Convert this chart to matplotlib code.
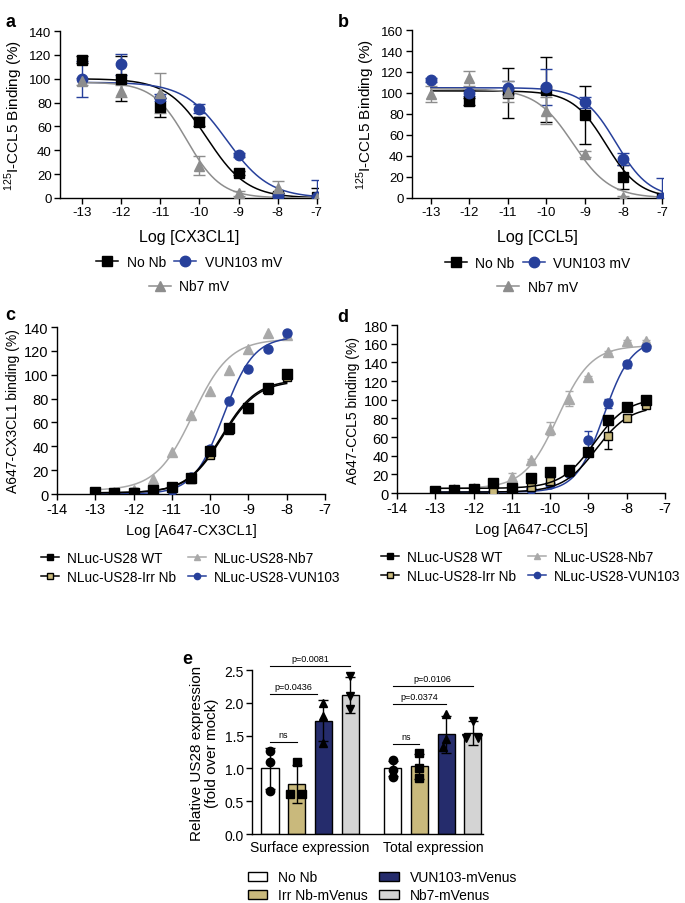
import numpy as np
import matplotlib
matplotlib.use("Agg")
import matplotlib.pyplot as plt
from matplotlib.patches import Patch
from matplotlib.lines import Line2D

plt.rcParams["font.family"] = ["Liberation Sans", "DejaVu Sans"]
plt.rcParams["mathtext.fontset"] = "custom"
plt.rcParams["mathtext.rm"] = "Liberation Sans"
plt.rcParams["axes.unicode_minus"] = False

# ---------- data: panel a (CX3CL1 competition) ----------
a_x = np.array([-13, -12, -11, -10, -9, -8, -7])
a_nonb = np.array([116, 100, 76, 64, 21, 2, 1])
a_nonb_err = np.array([3, 19, 8, 4, 2, 2, 7])
a_vun = np.array([100, 112, 84, 75, 36, 2, 1])
a_vun_err = np.array([15, 9, 3, 4, 2, 2, 14])
a_nb7 = np.array([98, 90, 88, 27, 4, 8, 0])
a_nb7_err = np.array([3, 5, 17, 8, 2, 6, 1])
# fit parameters: bottom, top, logIC50, hill
a_fit = {"nonb": (0, 100, -9.8, -0.85), "vun": (0, 97, -9.3, -0.8), "nb7": (0, 97, -10.32, -1.0)}

# ---------- data: panel b (CCL5 competition) ----------
b_x = np.array([-13, -12, -11, -10, -9, -8, -7])
b_nonb = np.array([np.nan, 92, 100, 103, 79, 20, 0])
b_nonb_err = np.array([0, 3, 24, 31, 28, 11, 0])
b_vun = np.array([112, 100, 105, 106, 91, 37, 0])
b_vun_err = np.array([2, 3, 6, 17, 5, 6, 19])
b_nb7 = np.array([99, 114, 101, 83, 42, 1, np.nan])
b_nb7_err = np.array([8, 7, 10, 13, 3, 1, 0])
b_fit = {"nonb": (0, 102, -8.45, -1.0), "vun": (0, 105, -8.19, -1.0), "nb7": (0, 104, -9.31, -0.9)}

# ---------- data: panel c (A647-CX3CL1 saturation) ----------
c_x = np.array([-13, -12.5, -12, -11.5, -11, -10.5, -10, -9.5, -9, -8.5, -8])
c_wt = np.array([2, 0.5, 1, 3, 6, 13.5, 36, 55, 72, 89, 101])
c_irr = np.array([1, 0.5, 1.4, 2, 5, 13, 33, 54, 71, 87, 98])
c_vun = np.array([0, 0, 0, 0, 3, 14, 38, 78, 105, 122, 135])
c_nb7 = np.array([2, 2, 3, 12.6, 35.6, 66.6, 86.5, 104, 122, 135, 133])
c_fit = {"wt": (1, 96, -9.7, 0.95), "irr": (1, 95, -9.68, 0.95),
         "vun": (0, 132, -9.65, 1.1), "nb7": (3, 130, -10.45, 0.9)}

# ---------- data: panel d (A647-CCL5 saturation) ----------
d_x = np.array([-13, -12.5, -12, -11.5, -11, -10.5, -10, -9.5, -9, -8.5, -8, -7.5])
d_wt = np.array([2, 3, 4, 11, 5.4, 16, 22.5, 24.6, 44, 78.6, 92, 100])
d_irr = np.array([0, 1, 2, 2, 3, 6.4, 13, 23, 43.6, 60.7, 80, 94])
d_irr_err = np.array([0, 0, 0, 0, 0, 0, 1, 1, 1, 14, 2, 2])
d_vun = np.array([0, 0, 1, 1, 2, 4, 9.6, 21, 56.8, 96, 138, 157])
d_vun_err = np.array([0, 0, 0, 0, 0, 0, 1, 1, 10, 5, 4, 2])
d_nb7 = np.array([2, 4, 5, 6, 17, 35, 69, 101, 124, 150.7, 162.5, 162.5])
d_nb7_err = np.array([0, 0, 0, 0, 4, 1, 7, 8, 1, 1, 1, 1])
d_fit = {"wt": (5, 102, -8.85, 1.0), "irr": (1, 93, -8.8, 1.0),
         "vun": (1, 165, -8.6, 1.2), "nb7": (5, 158, -9.8, 1.0)}

# ---------- data: panel e (bar chart) ----------
e_groups = ["Surface expression", "Total expression"]
e_conds = ["No Nb", "Irr Nb-mVenus", "VUN103-mVenus", "Nb7-mVenus"]
e_means = np.array([[1.00, 0.76, 1.73, 2.12],
                    [1.00, 1.03, 1.52, 1.54]])
e_sd = np.array([[0.31, 0.29, 0.31, 0.28],
                 [0.12, 0.19, 0.28, 0.18]])
e_points = [[[1.26, 1.10, 0.66], [1.10, 0.61, 0.61], [1.99, 1.80, 1.39], [2.41, 2.10, 1.90]],
            [[1.13, 0.97, 0.87], [1.23, 1.00, 0.86], [1.83, 1.45, 1.32], [1.73, 1.47, 1.47]]]
e_pvals = [("ns", 0, 0, 1, 1.40), ("p=0.0436", 0, 0, 1.75, 2.13), ("p=0.0081", 0, 0, 3, 2.56),
           ("ns", 1, 0, 1, 1.37), ("p=0.0374", 1, 0, 2, 1.98), ("p=0.0106", 1, 0, 3, 2.26)]

BLUE = "#27409b"
GRAY_AB = "#8d8d8d"
GRAY_CD = "#a9a9a9"
TAN = "#c9b97c"
NAVY = "#252c6c"
LGRAY = "#d4d4d4"


def logistic(x, p):
    bottom, top, ec50, hill = p
    return bottom + (top - bottom) / (1 + 10 ** ((ec50 - x) * hill))


def prism_axes(ax, fs):
    ax.spines["top"].set_visible(False)
    ax.spines["right"].set_visible(False)
    ax.tick_params(direction="out", length=4, width=1, labelsize=fs, pad=2)
    for s in ["left", "bottom"]:
        ax.spines[s].set_linewidth(1)


fig = plt.figure(figsize=(6.85, 9.04), dpi=100)

# ---------- panel a / b ----------
for pos, xs, sets, fits, ymax, yticks, xlabel, xl in [
        ([0.0876, 0.7799, 0.3766, 0.1847], a_x,
         [(a_nonb, a_nonb_err), (a_vun, a_vun_err), (a_nb7, a_nb7_err)], a_fit, 140,
         np.arange(0, 141, 20), "Log [CX3CL1]", (-13.56, -6.97)),
        ([0.6015, 0.7799, 0.3664, 0.1858], b_x,
         [(b_nonb, b_nonb_err), (b_vun, b_vun_err), (b_nb7, b_nb7_err)], b_fit, 160,
         np.arange(0, 161, 20), "Log [CCL5]", (-13.49, -6.97))]:
    ax = fig.add_axes(pos)
    prism_axes(ax, 9.5)
    xx = np.linspace(-13, -7, 300)
    styles = [("nonb", "black", "s", 7, "No Nb"), ("vun", BLUE, "o", 7.5, "VUN103 mV"),
              ("nb7", GRAY_AB, "^", 7.5, "Nb7 mV")]
    handles = []
    for (y, err), (key, col, mk, ms, lab) in zip(sets, styles):
        ax.errorbar(xs, y, yerr=err, fmt="none", ecolor=col, elinewidth=1, capsize=4, zorder=2)
        ax.plot(xx, logistic(xx, fits[key]), color=col, lw=1.1, zorder=3)
        ax.plot(xs, y, mk, color=col, ms=ms, zorder=4)
        handles.append(Line2D([0], [0], color=col, marker=mk, ms=ms, lw=1.1, label=lab))
    ax.set_xlim(*xl)
    ax.set_ylim(0, ymax)
    ax.set_xticks(np.arange(-13, -6, 1))
    ax.set_yticks(yticks)
    ax.set_xlabel(xlabel, fontsize=11.5, labelpad=8)
    ax.set_ylabel(r"$^{125}$I-CCL5 Binding (%)", fontsize=11, labelpad=3)
    leg1 = ax.legend(handles=handles[:2], ncol=2, loc="center", bbox_to_anchor=(0.5, -0.385),
                     frameon=False, fontsize=10, handlelength=1.6, columnspacing=0.6,
                     handletextpad=0.6)
    ax.add_artist(leg1)
    ax.legend(handles=handles[2:], loc="center", bbox_to_anchor=(0.5, -0.53),
              frameon=False, fontsize=10, handlelength=1.6, handletextpad=0.6)

# ---------- panel c / d ----------
for pos, xs, sets, fits, ymax, ystep, xlabel, ylabel, xend in [
        ([0.0832, 0.4524, 0.3912, 0.1847], c_x,
         [(c_wt, None), (c_irr, None), (c_vun, None), (c_nb7, None)], c_fit, 140, 20,
         "Log [A647-CX3CL1]", "A647-CX3CL1 binding (%)", -8),
        ([0.5796, 0.4535, 0.3912, 0.1858], d_x,
         [(d_wt, None), (d_irr, d_irr_err), (d_vun, d_vun_err), (d_nb7, d_nb7_err)], d_fit, 180, 20,
         "Log [A647-CCL5]", "A647-CCL5 binding (%)", -7.5)]:
    ax = fig.add_axes(pos)
    prism_axes(ax, 10.5)
    xx = np.linspace(-13, xend, 300)
    styles = [("wt", "black", "black", "s", 6.5, "NLuc-US28 WT", 5),
              ("irr", TAN, "black", "s", 6, "NLuc-US28-Irr Nb", 4),
              ("vun", BLUE, BLUE, "o", 6.5, "NLuc-US28-VUN103", 3),
              ("nb7", GRAY_CD, GRAY_CD, "^", 6.5, "NLuc-US28-Nb7", 2)]
    handles = {}
    for (y, err), (key, fc, ec, mk, ms, lab, z) in zip(sets, styles):
        linecol = "black" if key in ("wt", "irr") else fc
        if err is not None:
            ax.errorbar(xs, y, yerr=err, fmt="none", ecolor=linecol, elinewidth=1, capsize=3, zorder=z)
        ax.plot(xx, logistic(xx, fits[key]), color=linecol, lw=1.1, zorder=z)
        ax.plot(xs, y, mk, mfc=fc, mec=ec, mew=1, ms=ms, zorder=z + 0.5)
        handles[key] = Line2D([0], [0], color=linecol, marker=mk, mfc=fc, mec=ec, ms=4.5,
                              lw=1.1, label=lab)
    ax.set_xlim(-14, -7)
    ax.set_ylim(0, ymax)
    ax.set_xticks(np.arange(-14, -6, 1))
    ax.set_yticks(np.arange(0, ymax + 1, ystep))
    ax.set_xlabel(xlabel, fontsize=10.5, labelpad=5)
    ax.set_ylabel(ylabel, fontsize=10, labelpad=3)
    ax.legend(handles=[handles["wt"], handles["irr"], handles["nb7"], handles["vun"]], ncol=2,
              loc="upper center", bbox_to_anchor=(0.5, -0.265), frameon=False, fontsize=9.8,
              handlelength=1.3, columnspacing=0.9, handletextpad=0.6, labelspacing=0.4)

# ---------- panel e ----------
ax = fig.add_axes([0.3679, 0.0763, 0.3372, 0.1814])
prism_axes(ax, 10)
bar_cols = ["white", TAN, NAVY, LGRAY]
markers = ["o", "s", "^", "v"]
group_start = [0, 4.6]
jitter = [[[0, 0, 0], [0, -0.26, 0.19], [0, 0, 0], [0, 0, 0]],
          [[0, 0, 0], [0, 0, 0], [0, 0, -0.1], [0, -0.26, 0.19]]]
for g in range(2):
    for i in range(4):
        xpos = group_start[g] + i
        ax.bar(xpos, e_means[g][i], width=0.64, color=bar_cols[i], edgecolor="black",
               linewidth=1, zorder=2)
        ax.errorbar(xpos, e_means[g][i], yerr=e_sd[g][i], fmt="none", ecolor="black",
                    elinewidth=1, capsize=3.5, zorder=3)
        ax.plot(xpos + np.array(jitter[g][i]), e_points[g][i], markers[i], color="black",
                ms=6, zorder=4)
for lab, g, i0, i1, yv in e_pvals:
    x0 = group_start[g] + i0
    x1 = group_start[g] + i1
    ax.plot([x0, x1], [yv, yv], color="black", lw=0.8, clip_on=False)
    ax.text((x0 + x1) / 2, yv + 0.05, lab, ha="center", va="bottom", fontsize=6.5)
ax.set_xlim(-0.675, 7.98)
ax.set_ylim(0, 2.5)
ax.set_yticks(np.arange(0, 2.51, 0.5))
ax.set_yticklabels(["%.1f" % v for v in np.arange(0, 2.51, 0.5)])
ax.set_xticks([group_start[0] + 1.5, group_start[1] + 1.5])
ax.set_xticklabels(e_groups, fontsize=10)
ax.tick_params(axis="x", length=0, pad=4)
ax.set_ylabel("Relative US28 expression\n(fold over mock)", fontsize=11, labelpad=4,
              linespacing=1.1)
e_handles = [Patch(facecolor=c, edgecolor="black", label=l) for c, l in zip(bar_cols, e_conds)]
ax.legend(handles=[e_handles[0], e_handles[1], e_handles[2], e_handles[3]], ncol=2,
          loc="upper center", bbox_to_anchor=(0.565, -0.145), frameon=False, fontsize=10,
          handlelength=1.4, handleheight=0.6, columnspacing=0.8, handletextpad=0.8,
          labelspacing=0.3)

# ---------- panel letters ----------
for lab, x, y in [("a", 0.008, 0.985), ("b", 0.493, 0.985), ("c", 0.008, 0.66),
                  ("d", 0.493, 0.658), ("e", 0.266, 0.28)]:
    fig.text(x, y, lab, fontsize=13, fontweight="bold", va="top")

fig.savefig("out.png", dpi=100)
